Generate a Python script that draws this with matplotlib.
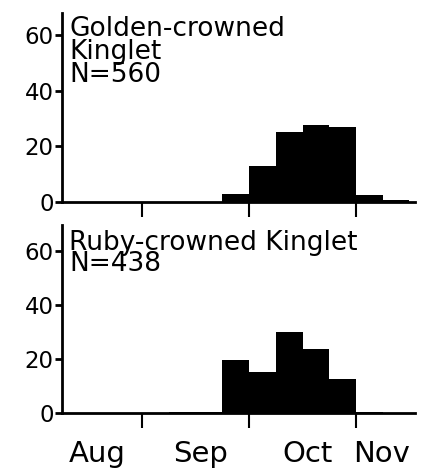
import numpy as np
import matplotlib
matplotlib.use('Agg')
import matplotlib.pyplot as plt

matplotlib.rcParams['font.family'] = 'DejaVu Sans'

# weekly bins, 4 per month, starting late July
golden_pct = [0, 0, 0, 0, 0, 0, 3, 13, 25, 27.7, 27.1, 2.3, 0.7]
ruby_pct = [0, 0, 0, 0, 0.5, 0.5, 19.7, 15.2, 30.1, 23.8, 12.7, 0.6, 0]
golden_label = 'Golden-crowned\nKinglet\nN=560'
ruby_label = 'Ruby-crowned Kinglet\nN=438'
months = ['Aug', 'Sep', 'Oct', 'Nov']
month_bounds = [3, 7, 11]
y_ticks = [0, 20, 40, 60]

fig = plt.figure(figsize=(4.22, 4.75), dpi=100)
ax1 = fig.add_axes([0.147, 0.575, 0.836, 0.398])
ax2 = fig.add_axes([0.147, 0.130, 0.836, 0.396])

for ax, vals, lab, ytop, lsp, ty in [(ax1, golden_pct, golden_label, 68, 0.86, 0.985),
                                      (ax2, ruby_pct, ruby_label, 69.7, 0.76, 0.975)]:
    x = np.arange(len(vals))
    ax.bar(x, vals, width=1, align='edge', color='black', linewidth=0)
    ax.set_xlim(0, 13.2)
    ax.set_ylim(0, ytop)
    for s in ['top', 'right']:
        ax.spines[s].set_visible(False)
    ax.spines['left'].set_linewidth(2)
    ax.spines['bottom'].set_linewidth(2)
    ax.set_yticks(y_ticks)
    ax.set_yticklabels([str(v) for v in y_ticks], fontsize=16.5)
    ax.tick_params(axis='y', length=5, width=2, pad=1)
    ax.set_xticks(month_bounds)
    ax.set_xticklabels([])
    ax.tick_params(axis='x', length=11, width=1.5)
    ax.text(0.02, ty, lab, transform=ax.transAxes, fontsize=19,
            va='top', ha='left', linespacing=lsp)

ax2.set_xticks([1.3, 5.2, 9.17, 11.96], minor=True)
ax2.set_xticklabels(months, minor=True, fontsize=21)
ax2.tick_params(axis='x', which='minor', length=0, pad=19)

fig.savefig('out.png', dpi=100)
